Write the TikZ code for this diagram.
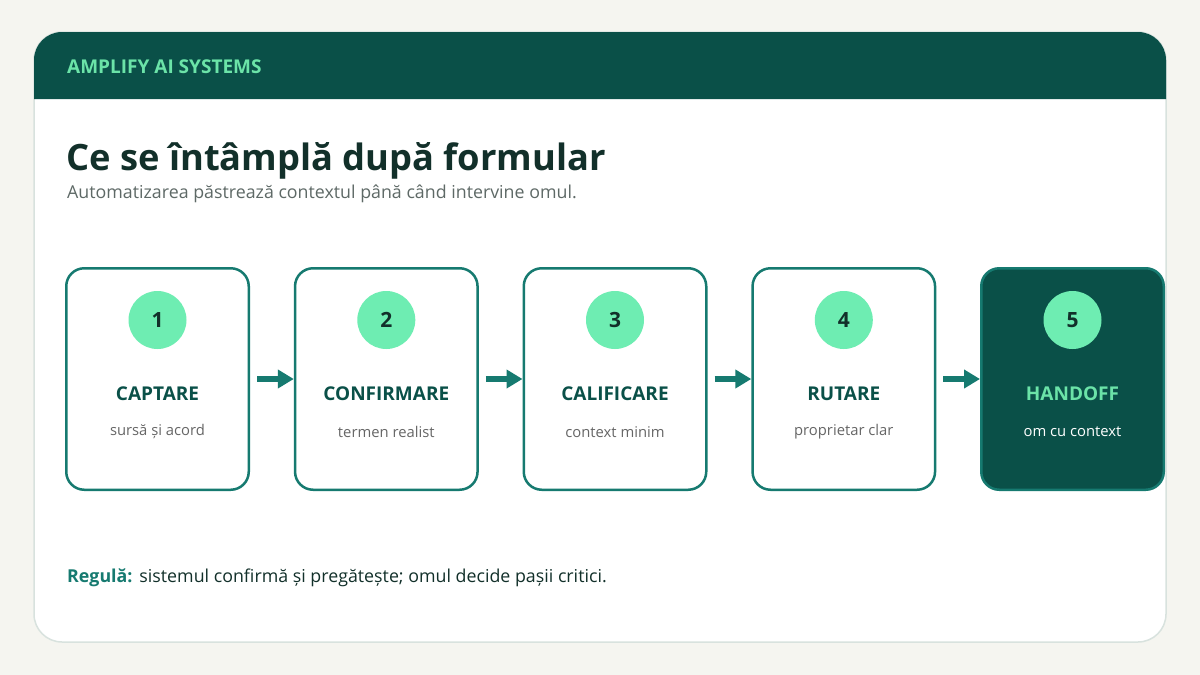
\documentclass[tikz,border=0pt]{standalone}
\usepackage{fontspec}
\setmainfont{Open Sans}
\usepackage{xcolor}
\usetikzlibrary{arrows.meta,positioning}
\definecolor{ampbg}{HTML}{F5F5F0}
\definecolor{ampline}{HTML}{D8E2DE}
\definecolor{ampdark}{HTML}{0A5048}
\definecolor{ampteal}{HTML}{167A70}
\definecolor{ampmint}{HTML}{6EEDB2}
\definecolor{amphead}{HTML}{6BE3A8}
\definecolor{ampink}{HTML}{12302A}
\definecolor{ampgrey}{HTML}{5E6966}
\definecolor{ampsub}{HTML}{666666}

\begin{document}
\begin{tikzpicture}[x=1pt, y=-1pt,
    stepbox/.style={rectangle, draw=ampteal, line width=2.5pt, fill=white, rounded corners=18pt,
                    minimum width=182.5pt, minimum height=221.5pt},
    num/.style={circle, fill=ampmint, minimum size=58pt, inner sep=0pt,
                font=\fontsize{21}{24}\selectfont\bfseries, text=ampink},
    steptitle/.style={font=\fontsize{19}{22}\selectfont\bfseries, text=ampdark},
    stepsub/.style={font=\fontsize{14.8}{18}\selectfont, text=ampsub},
    arr/.style={-{Triangle[length=16pt, width=18pt]}, line width=5.5pt, ampteal, shorten <=7pt},
]
    \useasboundingbox (0,0) rectangle (1200,675);
    \fill[ampbg] (0,0) rectangle (1200,675);
    % card and header band
    \filldraw[fill=white, draw=ampline, line width=1.5pt, rounded corners=28pt] (34,32) rectangle (1166,642);
    \fill[ampdark] (34,99) [rounded corners=28pt] -- (34,32) -- (1166,32) [sharp corners] -- (1166,99) -- cycle;
    \node[anchor=west, inner sep=0pt, text=amphead, font=\fontsize{19}{22}\selectfont\bfseries] (brand) at (67,67) {AMPLIFY AI SYSTEMS};
    % title
    \node[anchor=base west, inner sep=0pt, text=ampink, font=\fontsize{36.3}{40}\selectfont\bfseries] (title) at (66,170) {Ce se întâmplă după formular};
    \node[anchor=base west, inner sep=0pt, text=ampgrey, font=\fontsize{17.8}{21}\selectfont] (subtitle) at (67,198) {Automatizarea păstrează contextul până când intervine omul.};
    % steps
    \node[stepbox] (b1) at (157.5,379) {};
    \node[stepbox] (b2) at (386.3,379) {};
    \node[stepbox] (b3) at (615,379) {};
    \node[stepbox] (b4) at (843.8,379) {};
    \node[stepbox, fill=ampdark] (b5) at (1072.5,379) {};
    \node[num] (n1) at ([yshift=59]b1.center) {1};
    \node[num] (n2) at ([yshift=59]b2.center) {2};
    \node[num] (n3) at ([yshift=59]b3.center) {3};
    \node[num] (n4) at ([yshift=59]b4.center) {4};
    \node[num] (n5) at ([yshift=59]b5.center) {5};
    \node[steptitle] (t1) at ([yshift=-15]b1.center) {CAPTARE};
    \node[steptitle] (t2) at ([yshift=-15]b2.center) {CONFIRMARE};
    \node[steptitle] (t3) at ([yshift=-15]b3.center) {CALIFICARE};
    \node[steptitle] (t4) at ([yshift=-15]b4.center) {RUTARE};
    \node[steptitle, text=amphead] (t5) at ([yshift=-15]b5.center) {HANDOFF};
    \node[stepsub] (s1) at ([yshift=-53]b1.center) {sursă și acord};
    \node[stepsub] (s2) at ([yshift=-53]b2.center) {termen realist};
    \node[stepsub] (s3) at ([yshift=-53]b3.center) {context minim};
    \node[stepsub] (s4) at ([yshift=-53]b4.center) {proprietar clar};
    \node[stepsub, text=white] (s5) at ([yshift=-53]b5.center) {om cu context};
    % arrows between steps
    \draw[arr] (b1.east) -- (b2.west);
    \draw[arr] (b2.east) -- (b3.west);
    \draw[arr] (b3.east) -- (b4.west);
    \draw[arr] (b4.east) -- (b5.west);
    % rule
    \node[anchor=base west, inner sep=0pt, text=ampink, font=\fontsize{17.8}{21}\selectfont] (rule) at (67,582)
        {{\color{ampteal}\bfseries Regulă:}\hspace{7pt}sistemul confirmă și pregătește; omul decide pașii critici.};
\end{tikzpicture}
\end{document}
